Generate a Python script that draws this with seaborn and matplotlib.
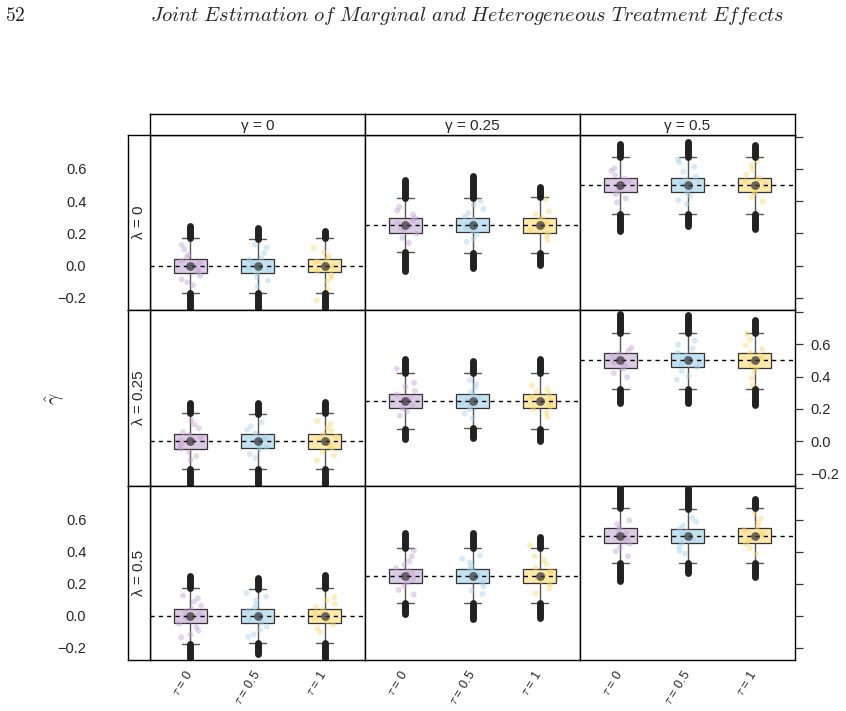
import numpy as np
import pandas as pd
import matplotlib.pyplot as plt
import seaborn as sns

# ---- data (estimates) ----
gamma_vals = [0, 0.25, 0.5]
gamma_labels = ['γ = 0', 'γ = 0.25', 'γ = 0.5']
lambda_labels = ['λ = 0', 'λ = 0.25', 'λ = 0.5']
tau_labels = [r'$\tau$ = 0', r'$\tau$ = 0.5', r'$\tau$ = 1']

# order: lambda row, then gamma column, then tau
q1 = [-0.043, -0.045, -0.042, 0.205, 0.206, 0.205, 0.455, 0.456, 0.456,
      -0.044, -0.043, -0.044, 0.205, 0.205, 0.205, 0.455, 0.456, 0.455,
      -0.043, -0.044, -0.043, 0.206, 0.205, 0.206, 0.455, 0.456, 0.455]
med = [0.000, -0.002, 0.000, 0.250, 0.249, 0.250, 0.500, 0.500, 0.500,
       0.000, 0.000, 0.001, 0.250, 0.250, 0.249, 0.500, 0.499, 0.500,
       0.000, 0.000, 0.000, 0.250, 0.250, 0.250, 0.500, 0.500, 0.500]
q3 = [0.043, 0.042, 0.044, 0.296, 0.294, 0.295, 0.543, 0.545, 0.544,
      0.043, 0.044, 0.044, 0.293, 0.294, 0.294, 0.543, 0.544, 0.544,
      0.043, 0.043, 0.044, 0.294, 0.294, 0.294, 0.545, 0.544, 0.545]
whisk_lo = [-0.167, -0.172, -0.168, 0.083, 0.081, 0.080, 0.321, 0.322, 0.320,
            -0.170, -0.168, -0.170, 0.079, 0.080, 0.079, 0.320, 0.321, 0.320,
            -0.173, -0.172, -0.172, 0.078, 0.079, 0.078, 0.330, 0.329, 0.330]
whisk_hi = [0.170, 0.163, 0.170, 0.421, 0.421, 0.425, 0.675, 0.676, 0.675,
            0.172, 0.170, 0.173, 0.423, 0.420, 0.422, 0.667, 0.668, 0.667,
            0.171, 0.170, 0.172, 0.424, 0.423, 0.424, 0.670, 0.669, 0.670]
out_lo = [-0.30, -0.30, -0.30, -0.036, -0.016, 0.007, 0.215, 0.245, 0.225,
          -0.30, -0.30, -0.30, 0.015, 0.020, 0.000, 0.235, 0.235, 0.225,
          -0.30, -0.235, -0.30, 0.010, -0.020, -0.010, 0.216, 0.265, 0.240]
out_hi = [0.245, 0.235, 0.215, 0.532, 0.553, 0.487, 0.753, 0.764, 0.747,
          0.235, 0.238, 0.245, 0.510, 0.497, 0.505, 0.784, 0.778, 0.751,
          0.249, 0.236, 0.257, 0.517, 0.514, 0.490, 0.810, 0.800, 0.730]

# a sample of individual estimates shown as jittered points
pts = [
    # lambda = 0
    [0.128, 0.101, 0.067, 0.052, 0.031, 0.018, 0.006, -0.009, -0.024, -0.041, -0.063, -0.085, -0.104, -0.121],
    [0.132, 0.112, 0.079, 0.047, 0.036, 0.015, -0.003, -0.016, -0.029, -0.048, -0.071, -0.093, -0.127],
    [0.109, 0.082, 0.061, 0.043, 0.027, 0.011, -0.005, -0.018, -0.033, -0.057, -0.074, -0.098, -0.142, -0.215],
    [0.364, 0.342, 0.318, 0.296, 0.281, 0.262, 0.247, 0.233, 0.219, 0.198, 0.172, 0.141],
    [0.401, 0.379, 0.352, 0.327, 0.303, 0.288, 0.264, 0.251, 0.236, 0.214, 0.191, 0.163, 0.148],
    [0.412, 0.336, 0.318, 0.297, 0.279, 0.266, 0.249, 0.231, 0.218, 0.201, 0.183, 0.159],
    [0.603, 0.588, 0.561, 0.540, 0.523, 0.507, 0.494, 0.478, 0.461, 0.443, 0.417, 0.392],
    [0.658, 0.641, 0.612, 0.583, 0.552, 0.531, 0.512, 0.498, 0.476, 0.452, 0.431, 0.405, 0.382],
    [0.651, 0.622, 0.594, 0.566, 0.541, 0.523, 0.503, 0.487, 0.468, 0.449, 0.424, 0.397],
    # lambda = 0.25
    [0.131, 0.104, 0.082, 0.057, 0.038, 0.021, 0.004, -0.012, -0.027, -0.046, -0.068, -0.091, -0.113],
    [0.119, 0.093, 0.071, 0.049, 0.026, 0.013, -0.002, -0.017, -0.035, -0.052, -0.079, -0.102],
    [0.126, 0.108, 0.084, 0.062, 0.044, 0.029, 0.008, -0.007, -0.023, -0.041, -0.066, -0.088, -0.118],
    [0.448, 0.361, 0.337, 0.312, 0.289, 0.271, 0.256, 0.238, 0.222, 0.203, 0.184, 0.158],
    [0.377, 0.352, 0.331, 0.305, 0.287, 0.268, 0.252, 0.237, 0.219, 0.198, 0.171, 0.142],
    [0.345, 0.322, 0.308, 0.291, 0.276, 0.261, 0.249, 0.233, 0.216, 0.197, 0.176, 0.151],
    [0.578, 0.559, 0.541, 0.527, 0.512, 0.498, 0.483, 0.466, 0.447, 0.421, 0.396],
    [0.621, 0.597, 0.571, 0.548, 0.529, 0.511, 0.496, 0.479, 0.458, 0.434, 0.403, 0.381],
    [0.664, 0.628, 0.593, 0.569, 0.546, 0.528, 0.507, 0.491, 0.473, 0.452, 0.427, 0.392, 0.348],
    # lambda = 0.5
    [0.128, 0.109, 0.088, 0.064, 0.047, 0.025, 0.009, -0.008, -0.026, -0.049, -0.071, -0.092, -0.117, -0.134],
    [0.143, 0.121, 0.096, 0.071, 0.052, 0.033, 0.014, -0.004, -0.021, -0.043, -0.066, -0.088, -0.114, -0.131],
    [0.118, 0.097, 0.076, 0.055, 0.037, 0.017, 0.002, -0.014, -0.032, -0.055, -0.078, -0.101, -0.221],
    [0.408, 0.372, 0.341, 0.318, 0.297, 0.281, 0.263, 0.247, 0.229, 0.211, 0.187, 0.162, 0.134],
    [0.377, 0.356, 0.333, 0.311, 0.292, 0.276, 0.259, 0.243, 0.227, 0.206, 0.183, 0.158, 0.137],
    [0.438, 0.372, 0.349, 0.323, 0.301, 0.284, 0.268, 0.251, 0.236, 0.219, 0.198, 0.173, 0.141],
    [0.596, 0.571, 0.548, 0.531, 0.514, 0.499, 0.484, 0.468, 0.449, 0.427, 0.403, 0.372],
    [0.611, 0.587, 0.562, 0.541, 0.523, 0.506, 0.491, 0.474, 0.456, 0.432, 0.406, 0.389],
    [0.642, 0.608, 0.581, 0.557, 0.534, 0.517, 0.501, 0.486, 0.469, 0.448, 0.421, 0.383],
]

box_colors = ['#dccbe4', '#c5e2f1', '#fde9a9']
pt_colors = ['#c4a2d6', '#a3d2ec', '#fbd56c']

# ---- style ----
sns.set_style('white')
plt.rcParams['font.family'] = ['Liberation Sans', 'DejaVu Sans']
plt.rcParams['mathtext.fontset'] = 'cm'
plt.rcParams['axes.linewidth'] = 1.0
plt.rcParams['axes.edgecolor'] = 'black'

W, H = 846, 711
col_x = [150, 365, 580, 795]
row_y = [135, 310, 486, 660]
ylim = (-0.275, 0.81)
yticks = [-0.2, 0.0, 0.2, 0.4, 0.6, 0.8]
ytick_labels = ['\u22120.2', '0.0', '0.2', '0.4', '0.6', '']


def frac(x0, y0, x1, y1):
    return [x0 / W, 1 - y1 / H, (x1 - x0) / W, (y1 - y0) / H]


fig = plt.figure(figsize=(W / 100, H / 100), dpi=100)

for r in range(3):
    for c in range(3):
        ax = fig.add_axes(frac(col_x[c], row_y[r], col_x[c + 1], row_y[r + 1]))
        idx = [r * 9 + c * 3 + t for t in range(3)]

        # jittered points
        vals, labs = [], []
        for k, t in zip(idx, tau_labels):
            vals += pts[k]
            labs += [t] * len(pts[k])
        df = pd.DataFrame({'tau': labs, 'val': vals})
        sns.stripplot(data=df, x='tau', y='val', hue='tau', order=tau_labels,
                      palette=dict(zip(tau_labels, pt_colors)), jitter=0.17,
                      size=4.2, alpha=0.45, linewidth=0, legend=False, ax=ax, zorder=3)

        # boxes from summary stats
        stats = [dict(q1=q1[k], med=med[k], q3=q3[k], whislo=whisk_lo[k],
                      whishi=whisk_hi[k], fliers=[]) for k in idx]
        bp = ax.bxp(stats, positions=[0, 1, 2], widths=0.5, patch_artist=True,
                    showfliers=False, manage_ticks=False, zorder=2,
                    boxprops=dict(edgecolor='#333333', linewidth=0.9),
                    whiskerprops=dict(color='#555555', linewidth=1.0),
                    capprops=dict(color='#555555', linewidth=1.0),
                    medianprops=dict(linewidth=0))
        for patch, col in zip(bp['boxes'], box_colors):
            patch.set_facecolor(col)

        # outliers (dense columns of points)
        ax.vlines([0, 1, 2], [whisk_hi[k] for k in idx], [out_hi[k] for k in idx],
                  colors='#222222', linewidth=5, capstyle='round', zorder=4)
        ax.vlines([0, 1, 2], [out_lo[k] for k in idx], [whisk_lo[k] for k in idx],
                  colors='#222222', linewidth=5, capstyle='round', zorder=4)

        # true value
        ax.axhline(gamma_vals[c], color='black', linestyle=(0, (3, 3)), linewidth=1, zorder=5)

        # median dots
        ax.scatter([0, 1, 2], [med[k] for k in idx], s=40, color='#3a3a3a',
                   alpha=0.75, linewidth=0, zorder=6)

        ax.set_xlim(-0.6, 2.6)
        ax.set_ylim(ylim)
        ax.set_xlabel('')
        ax.set_ylabel('')

        if c == 2:
            ax.yaxis.tick_right()
            ax.set_yticks(yticks)
            ax.set_yticklabels(ytick_labels if r == 1 else [''] * 6)
            ax.tick_params(axis='y', direction='out', length=6, width=0.9,
                           color='#333333', pad=5, labelsize=10.5)
        else:
            ax.set_yticks([])

        if r == 2:
            ax.set_xticks([0, 1, 2])
            ax.set_xticklabels(tau_labels, rotation=58, ha='right', va='center',
                               rotation_mode='anchor', fontsize=9)
            ax.tick_params(axis='x', length=0, pad=8)
        else:
            ax.set_xticks([])

# top strips
for c in range(3):
    s = fig.add_axes(frac(col_x[c], 114, col_x[c + 1], 135))
    s.set_xticks([])
    s.set_yticks([])
    s.text(0.5, 0.45, gamma_labels[c], ha='center', va='center', fontsize=11,
           transform=s.transAxes)

# left strips with the y axis
for r in range(3):
    s = fig.add_axes(frac(128, row_y[r], 150, row_y[r + 1]))
    s.set_xticks([])
    s.set_ylim(ylim)
    s.set_yticks(yticks)
    s.set_yticklabels(ytick_labels if r != 1 else [''] * 6)
    s.tick_params(axis='y', direction='out', length=6, width=0.9,
                  color='#333333', pad=24, labelsize=10.5)
    s.text(0.5, 0.5, lambda_labels[r], rotation=90, ha='center', va='center',
           fontsize=11, transform=s.transAxes)

fig.text(55 / W, 1 - 399 / H, r'$\hat{\gamma}$', rotation=90, ha='center',
         va='center', fontsize=14)

# page header
fig.text(5 / W, 1 - 16 / H, r'$\mathrm{52}$', ha='left', va='center', fontsize=14)
fig.text(467 / W, 1 - 16 / H,
         r'$\mathit{Joint\ Estimation\ of\ Marginal\ and\ Heterogeneous\ Treatment\ Effects}$',
         ha='center', va='center', fontsize=14.7)

fig.savefig('out.png', dpi=100)
